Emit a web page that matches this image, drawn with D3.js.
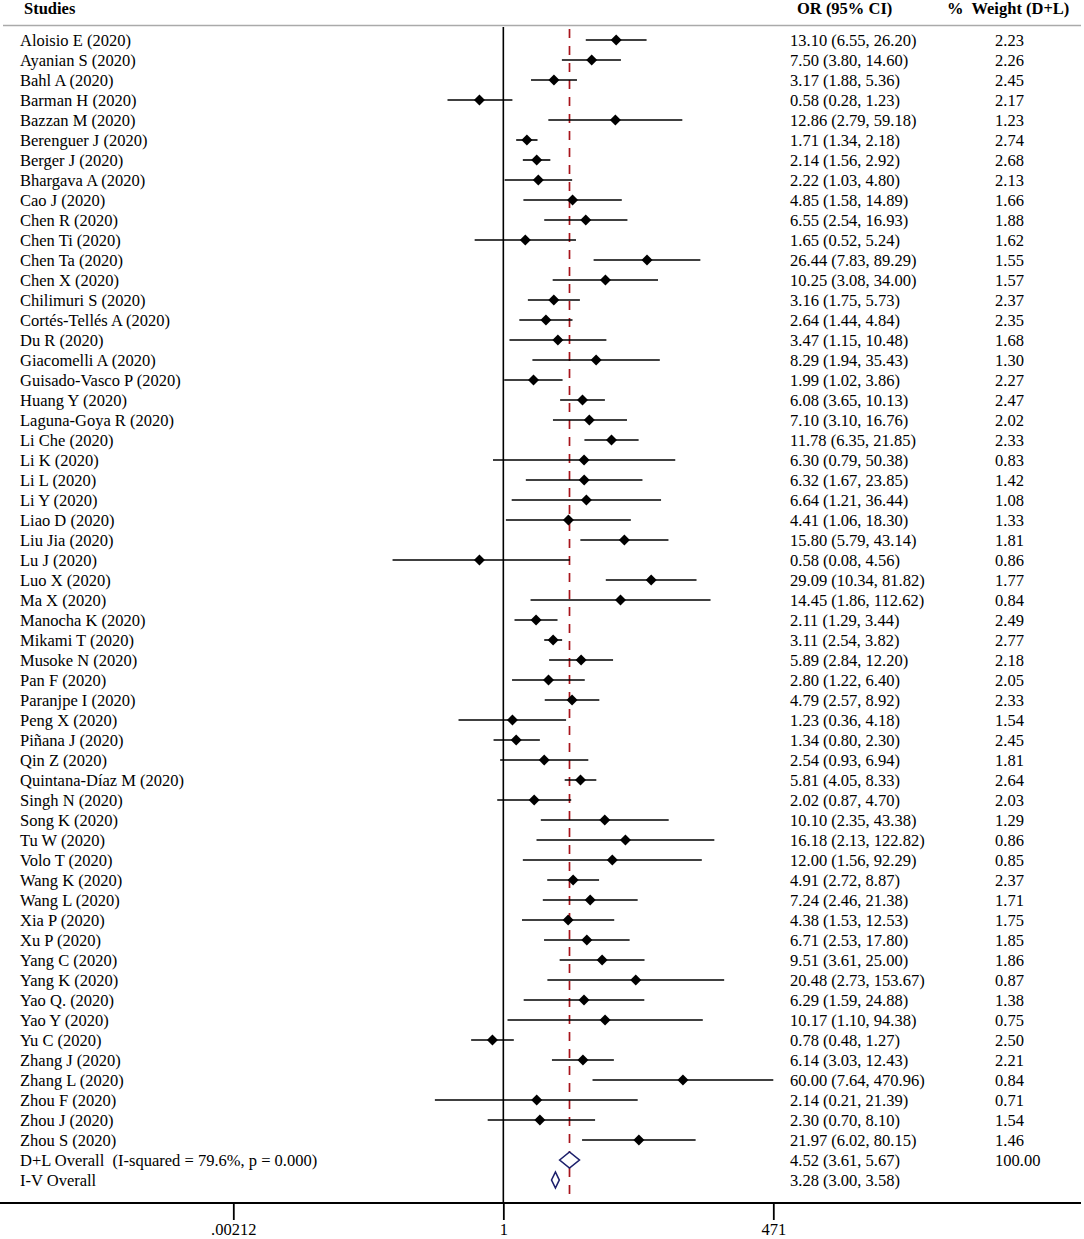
<!DOCTYPE html>
<html lang="en">
<head>
    <meta charset="UTF-8">
    <title>Forest plot</title>
    <script src="https://d3js.org/d3.v7.min.js"></script>
    <style>
        * { margin: 0; padding: 0; box-sizing: border-box; }
        body { background: #ffffff; font-family: 'Liberation Serif', 'Times New Roman', serif; }
        svg text { font-family: 'Liberation Serif', 'Times New Roman', serif; font-size: 16.5px; fill: #000; white-space: pre; }
        .head { font-weight: bold; }
    </style>
</head>
<body>
    <div id="chart"></div>
    <script>
        const studies = [
            "Aloisio E (2020)", "Ayanian S (2020)", "Bahl A (2020)", "Barman H (2020)", "Bazzan M (2020)",
            "Berenguer J (2020)", "Berger J (2020)", "Bhargava A (2020)", "Cao J (2020)", "Chen R (2020)",
            "Chen Ti (2020)", "Chen Ta (2020)", "Chen X (2020)", "Chilimuri S (2020)", "Cortés-Tellés A (2020)",
            "Du R (2020)", "Giacomelli A (2020)", "Guisado-Vasco P (2020)", "Huang Y (2020)", "Laguna-Goya R (2020)",
            "Li Che (2020)", "Li K (2020)", "Li L (2020)", "Li Y (2020)", "Liao D (2020)",
            "Liu Jia (2020)", "Lu J (2020)", "Luo X (2020)", "Ma X (2020)", "Manocha K (2020)",
            "Mikami T (2020)", "Musoke N (2020)", "Pan F (2020)", "Paranjpe I (2020)", "Peng X (2020)",
            "Piñana J (2020)", "Qin Z (2020)", "Quintana-Díaz M (2020)", "Singh N (2020)", "Song K (2020)",
            "Tu W (2020)", "Volo T (2020)", "Wang K (2020)", "Wang L (2020)", "Xia P (2020)",
            "Xu P (2020)", "Yang C (2020)", "Yang K (2020)", "Yao Q. (2020)", "Yao Y (2020)",
            "Yu C (2020)", "Zhang J (2020)", "Zhang L (2020)", "Zhou F (2020)", "Zhou J (2020)",
            "Zhou S (2020)"
        ];
        const oddsRatio = [
            13.10, 7.50, 3.17, 0.58, 12.86, 1.71, 2.14, 2.22, 4.85, 6.55,
            1.65, 26.44, 10.25, 3.16, 2.64, 3.47, 8.29, 1.99, 6.08, 7.10,
            11.78, 6.30, 6.32, 6.64, 4.41, 15.80, 0.58, 29.09, 14.45, 2.11,
            3.11, 5.89, 2.80, 4.79, 1.23, 1.34, 2.54, 5.81, 2.02, 10.10,
            16.18, 12.00, 4.91, 7.24, 4.38, 6.71, 9.51, 20.48, 6.29, 10.17,
            0.78, 6.14, 60.00, 2.14, 2.30, 21.97
        ];
        const ciLower = [
            6.55, 3.80, 1.88, 0.28, 2.79, 1.34, 1.56, 1.03, 1.58, 2.54,
            0.52, 7.83, 3.08, 1.75, 1.44, 1.15, 1.94, 1.02, 3.65, 3.10,
            6.35, 0.79, 1.67, 1.21, 1.06, 5.79, 0.08, 10.34, 1.86, 1.29,
            2.54, 2.84, 1.22, 2.57, 0.36, 0.80, 0.93, 4.05, 0.87, 2.35,
            2.13, 1.56, 2.72, 2.46, 1.53, 2.53, 3.61, 2.73, 1.59, 1.10,
            0.48, 3.03, 7.64, 0.21, 0.70, 6.02
        ];
        const ciUpper = [
            26.20, 14.60, 5.36, 1.23, 59.18, 2.18, 2.92, 4.80, 14.89, 16.93,
            5.24, 89.29, 34.00, 5.73, 4.84, 10.48, 35.43, 3.86, 10.13, 16.76,
            21.85, 50.38, 23.85, 36.44, 18.30, 43.14, 4.56, 81.82, 112.62, 3.44,
            3.82, 12.20, 6.40, 8.92, 4.18, 2.30, 6.94, 8.33, 4.70, 43.38,
            122.82, 92.29, 8.87, 21.38, 12.53, 17.80, 25.00, 153.67, 24.88, 94.38,
            1.27, 12.43, 470.96, 21.39, 8.10, 80.15
        ];
        const weights = [
            2.23, 2.26, 2.45, 2.17, 1.23, 2.74, 2.68, 2.13, 1.66, 1.88,
            1.62, 1.55, 1.57, 2.37, 2.35, 1.68, 1.30, 2.27, 2.47, 2.02,
            2.33, 0.83, 1.42, 1.08, 1.33, 1.81, 0.86, 1.77, 0.84, 2.49,
            2.77, 2.18, 2.05, 2.33, 1.54, 2.45, 1.81, 2.64, 2.03, 1.29,
            0.86, 0.85, 2.37, 1.71, 1.75, 1.85, 1.86, 0.87, 1.38, 0.75,
            2.50, 2.21, 0.84, 0.71, 1.54, 1.46
        ];
        const overallLabels = ["D+L Overall  (I-squared = 79.6%, p = 0.000)", "I-V Overall"];
        const overallOR = [4.52, 3.28];
        const overallLower = [3.61, 3.00];
        const overallUpper = [5.67, 3.58];
        const overallWeight = ["100.00", ""];
        const tickValues = [0.00212, 1, 471];
        const tickLabels = [".00212", "1", "471"];

        const W = 1084, H = 1239;
        const svg = d3.select("#chart").append("svg")
            .attr("width", W)
            .attr("height", H);

        const x = d3.scaleLog()
            .domain([0.00212, 471])
            .range([233.3, 773.3]);

        const nRows = studies.length + overallLabels.length;
        const y = d3.scaleLinear()
            .domain([0, nRows - 1])
            .range([40, 40 + 20 * (nRows - 1)]);

        const axisY = 1203;
        const topY = 27;
        const fmt = d3.format(".2f");

        // header
        svg.append("text").attr("class", "head").attr("x", 24).attr("y", 14).text("Studies");
        svg.append("text").attr("class", "head").attr("x", 797).attr("y", 14).text("OR (95% CI)");
        svg.append("text").attr("class", "head").attr("x", 947).attr("y", 14).text("%  Weight (D+L)");
        svg.append("line")
            .attr("x1", 3).attr("x2", 1081)
            .attr("y1", 25.5).attr("y2", 25.5)
            .attr("stroke", "#aaaaaa").attr("stroke-width", 1.5);

        // null line and overall line
        svg.append("line")
            .attr("x1", x(1)).attr("x2", x(1))
            .attr("y1", topY).attr("y2", axisY)
            .attr("stroke", "#000").attr("stroke-width", 1.6);

        svg.append("line")
            .attr("x1", x(overallOR[0])).attr("x2", x(overallOR[0]))
            .attr("y1", topY + 2).attr("y2", axisY)
            .attr("stroke", "#a8141c").attr("stroke-width", 1.7)
            .attr("stroke-dasharray", "9,8");

        // studies
        const rows = svg.selectAll(".study")
            .data(studies.map((s, i) => ({ name: s, or: oddsRatio[i], lo: ciLower[i], hi: ciUpper[i], w: weights[i], i })))
            .join("g")
            .attr("class", "study");

        rows.append("line")
            .attr("x1", d => x(d.lo)).attr("x2", d => x(d.hi))
            .attr("y1", d => y(d.i)).attr("y2", d => y(d.i))
            .attr("stroke", "#000").attr("stroke-width", 1.6);

        rows.append("path")
            .attr("d", d => {
                const cx = x(d.or), cy = y(d.i), r = 5.5;
                return `M${cx - r},${cy}L${cx},${cy - r}L${cx + r},${cy}L${cx},${cy + r}Z`;
            })
            .attr("fill", "#000");

        rows.append("text").attr("x", 20).attr("y", d => y(d.i) + 5.5).text(d => d.name);
        rows.append("text").attr("x", 790).attr("y", d => y(d.i) + 5.5)
            .text(d => `${fmt(d.or)} (${fmt(d.lo)}, ${fmt(d.hi)})`);
        rows.append("text").attr("x", 995).attr("y", d => y(d.i) + 5.5).text(d => fmt(d.w));

        // overall estimates
        const overall = svg.selectAll(".overall")
            .data(overallLabels.map((s, k) => ({ name: s, or: overallOR[k], lo: overallLower[k], hi: overallUpper[k], w: overallWeight[k], i: studies.length + k })))
            .join("g")
            .attr("class", "overall");

        overall.append("path")
            .attr("d", d => {
                const cy = y(d.i), h = 8;
                return `M${x(d.lo)},${cy}L${x(d.or)},${cy - h}L${x(d.hi)},${cy}L${x(d.or)},${cy + h}Z`;
            })
            .attr("fill", "#fff")
            .attr("stroke", "#1c1f6b")
            .attr("stroke-width", 1.6);

        overall.append("text").attr("x", 20).attr("y", d => y(d.i) + 5.5).text(d => d.name);
        overall.append("text").attr("x", 790).attr("y", d => y(d.i) + 5.5)
            .text(d => `${fmt(d.or)} (${fmt(d.lo)}, ${fmt(d.hi)})`);
        overall.append("text").attr("x", 995).attr("y", d => y(d.i) + 5.5).text(d => d.w);

        // x axis
        svg.append("line")
            .attr("x1", 0).attr("x2", 1081)
            .attr("y1", axisY).attr("y2", axisY)
            .attr("stroke", "#000").attr("stroke-width", 1.8);

        const axis = svg.append("g")
            .attr("transform", `translate(0,${axisY})`)
            .call(d3.axisBottom(x)
                .tickValues(tickValues)
                .tickFormat((d, i) => tickLabels[i])
                .tickSize(17)
                .tickPadding(3));
        axis.select(".domain").remove();
        axis.selectAll(".tick line").attr("stroke", "#000").attr("stroke-width", 1.8);
        axis.selectAll(".tick text")
            .attr("font-family", "'Liberation Serif', 'Times New Roman', serif")
            .attr("font-size", 16)
            .attr("fill", "#000");
    </script>
</body>
</html>
